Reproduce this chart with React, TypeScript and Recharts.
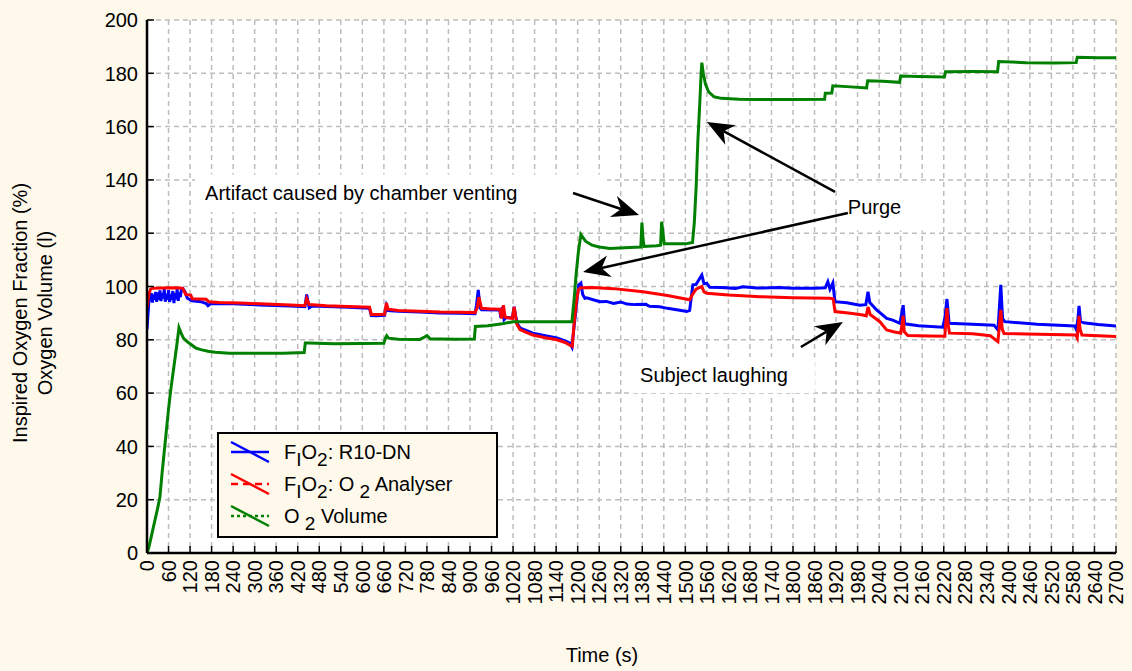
import React from "react";
import {
  CartesianGrid,
  Legend,
  Line,
  LineChart,
  ReferenceArea,
  ReferenceLine,
  XAxis,
  YAxis,
} from "recharts";

const FONT = '"Liberation Sans", Arial, sans-serif';

// time (s) -> value
const r10dnSeries: [number, number][] = [
  [0, 84], [3, 90], [6, 96], [9, 94.5], [12, 97.5], [15, 94], [18, 97], [21, 95], [24, 98],
  [27, 94.2], [30, 97.8], [33, 95], [36, 98.5], [39, 94.5], [42, 97.5], [45, 95.5], [48, 99],
  [51, 94.3], [54, 97.2], [57, 95], [60, 98.6], [63, 94.2], [66, 97], [69, 95], [72, 98.3],
  [75, 93.8], [78, 97.5], [81, 95.2], [84, 99], [87, 94.6], [90, 97.8], [93, 96], [96, 99],
  [100, 99.2], [106, 98], [112, 95.7], [125, 94.6], [150, 94.3], [165, 93.6], [170, 92.8],
  [178, 93.6], [240, 93.5], [330, 93], [400, 92.7], [440, 92.4], [445, 97], [449, 94],
  [452, 92], [460, 92.7], [500, 92.5], [560, 92.2], [620, 91.8], [625, 89.1], [640, 89],
  [662, 89.2], [667, 92.8], [672, 91], [700, 90.7], [760, 90.4], [816, 90.1], [870, 90],
  [914, 89.8], [918, 93], [923, 98.7], [928, 92], [932, 91.3], [983, 91.2], [986, 88.3],
  [990, 92.2], [995, 87.6], [1000, 88.4], [1018, 88.2], [1023, 92.4], [1027, 89], [1032, 86],
  [1040, 84.4], [1060, 83.3], [1075, 82.5], [1110, 81.5], [1142, 80.7], [1165, 79.6],
  [1178, 78.8], [1184, 77.3], [1190, 85], [1198, 95], [1203, 100.6], [1209, 101.3],
  [1214, 97], [1220, 95.6], [1225, 95.8], [1262, 94.3], [1280, 94.4], [1300, 93.6],
  [1320, 94.2], [1337, 93.4], [1360, 93.2], [1390, 93.3], [1400, 92.6], [1429, 92.4],
  [1450, 91.8], [1480, 91.2], [1504, 90.6], [1512, 91], [1521, 100.6], [1530, 100.8],
  [1540, 103], [1546, 104.3], [1552, 101], [1560, 101.2], [1568, 99.7], [1600, 99.6],
  [1640, 99.3], [1660, 99.9], [1700, 99.4], [1760, 99.6], [1800, 99.3], [1860, 99.3],
  [1890, 99.5], [1897, 101.8], [1903, 99], [1911, 101.3], [1917, 94.3], [1950, 93.9],
  [1986, 93], [2003, 93.2], [2009, 98], [2014, 94], [2033, 91.2], [2061, 88], [2078, 87.4],
  [2098, 86.2], [2103, 90], [2107, 93], [2111, 86], [2150, 85.3], [2217, 84.7], [2223, 88],
  [2229, 95.3], [2235, 86.2], [2300, 85.8], [2360, 85.5], [2371, 83.7], [2375, 92],
  [2379, 100.6], [2384, 88], [2390, 86.8], [2480, 85.8], [2585, 85.2], [2590, 83.7],
  [2594, 88], [2597, 92.7], [2601, 87], [2610, 86.4], [2650, 85.7], [2700, 85.2],
];

const analyserSeries: [number, number][] = [
  [0, 92], [5, 97], [10, 99], [14, 99.3], [40, 99.4], [70, 99.5], [95, 99.4], [100, 99.2],
  [108, 97], [122, 96.8], [126, 95.4], [165, 95.2], [172, 94.3], [200, 94], [260, 93.8],
  [330, 93.4], [400, 93.1], [440, 92.8], [445, 95.5], [452, 93.2], [500, 92.8], [560, 92.5],
  [620, 92.2], [625, 89.5], [640, 89.5], [662, 89.6], [667, 93.8], [672, 91.5], [700, 91],
  [760, 90.7], [816, 90.4], [870, 90.3], [914, 90.2], [920, 92], [925, 96], [932, 91.8],
  [960, 91.6], [983, 91.5], [988, 88], [993, 93], [998, 88.5], [1018, 88], [1023, 92.3],
  [1030, 86], [1039, 83.8], [1060, 82.6], [1075, 81.8], [1110, 80.8], [1142, 80], [1165, 79],
  [1178, 78], [1185, 77.6], [1190, 86], [1196, 94], [1202, 98.8], [1208, 99.5], [1240, 99.6],
  [1300, 99.2], [1382, 98], [1450, 96.6], [1512, 95], [1520, 97], [1530, 99], [1546, 100],
  [1552, 98], [1560, 97.5], [1620, 96.8], [1708, 96.2], [1800, 95.8], [1903, 95.6],
  [1912, 95.4], [1917, 90.6], [1960, 90], [1995, 89.3], [2004, 89], [2009, 92.3], [2015, 89.5],
  [2030, 88], [2042, 86.8], [2061, 83.7], [2080, 83], [2100, 82.5], [2104, 86], [2107, 89],
  [2110, 83], [2120, 81.6], [2180, 81.4], [2223, 81.3], [2226, 87], [2229, 91.9], [2232, 86],
  [2236, 82.5], [2300, 82.3], [2350, 81.5], [2371, 79.3], [2375, 85], [2379, 91.2], [2383, 84],
  [2388, 82.4], [2450, 82.2], [2520, 82], [2588, 81.8], [2592, 80.7], [2595, 85], [2597, 89],
  [2600, 84], [2605, 81.8], [2650, 81.5], [2700, 81.2],
];

const volumeSeries: [number, number][] = [
  [0, 0], [5, 2], [10, 5], [15, 8], [20, 11], [25, 14], [30, 17], [36, 21], [42, 30], [48, 38],
  [54, 46], [60, 54], [66, 61], [72, 67], [78, 73], [84, 79], [89, 84.5], [95, 82.5],
  [102, 80.5], [110, 79.5], [120, 78.5], [135, 77], [150, 76.3], [170, 75.7], [190, 75.3],
  [230, 75], [300, 75], [380, 75], [438, 75.2], [441, 78.8], [450, 78.8], [520, 78.5],
  [600, 78.6], [660, 78.7], [664, 80.5], [668, 81.5], [673, 80.6], [700, 80.2], [760, 80.1],
  [770, 80.8], [780, 81.6], [790, 80.3], [816, 80.3], [860, 80.2], [912, 80.3], [915, 85],
  [950, 85.3], [990, 86], [1020, 86.8], [1060, 86.8], [1120, 86.8], [1184, 86.8], [1190, 95],
  [1196, 105], [1202, 113], [1209, 119.5], [1214, 118.5], [1222, 117], [1240, 115.5],
  [1260, 114.8], [1290, 114.3], [1330, 114.5], [1376, 114.8], [1379, 124], [1382, 118],
  [1385, 115], [1420, 115.3], [1431, 115.5], [1434, 124.3], [1437, 121], [1441, 116],
  [1470, 116], [1500, 116], [1520, 116.5], [1525, 124], [1530, 137], [1535, 155], [1540, 168],
  [1544, 180], [1546, 184], [1550, 180], [1556, 176], [1565, 173], [1580, 171.2],
  [1600, 170.6], [1650, 170.3], [1700, 170.2], [1800, 170.2], [1888, 170.3], [1890, 172.5],
  [1908, 172.6], [1911, 175.3], [1950, 175], [2005, 174.5], [2008, 177.2], [2050, 177],
  [2097, 176.6], [2100, 179], [2150, 178.8], [2222, 178.6], [2225, 180.6], [2300, 180.7],
  [2370, 180.6], [2373, 184.4], [2450, 184], [2530, 183.9], [2589, 184], [2592, 186],
  [2650, 185.8], [2700, 185.8],
];

const timeTicks = [
  0, 60, 120, 180, 240, 300, 360, 420, 480, 540, 600, 660, 720, 780, 840, 900, 960, 1020,
  1080, 1140, 1200, 1260, 1320, 1380, 1440, 1500, 1560, 1620, 1680, 1740, 1800, 1860, 1920,
  1980, 2040, 2100, 2160, 2220, 2280, 2340, 2400, 2460, 2520, 2580, 2640, 2700,
];
const valueTicks = [0, 20, 40, 60, 80, 100, 120, 140, 160, 180, 200];

// annotation text boxes [t1, t2, v1, v2] and arrows [tailT, tailV, tipT, tipV]
const notes = [
  { text: "Artifact caused by chamber venting", box: [134, 1282, 128, 142] },
  { text: "Purge", box: [1925, 2210, 121, 139] },
  { text: "Subject laughing", box: [1346, 1861, 60, 73.5] },
];
const arrows = [
  [1187, 135.1, 1371, 126.8],
  [1917, 135.5, 1560, 161.7],
  [1953, 127.6, 1215, 105.4],
  [1822, 77.3, 1939, 86.7],
];

const toPoints = (s: [number, number][]) => s.map(([t, v]) => ({ t, v }));

const series = [
  { key: "r10", color: "#0000FF", dash: "", data: toPoints(r10dnSeries), label: <>F<sub>I</sub>O<sub>2</sub>: R10-DN</> },
  { key: "ana", color: "#FF0000", dash: "7 5", data: toPoints(analyserSeries), label: <>F<sub>I</sub>O<sub>2</sub>: O<sub>&nbsp;2</sub> Analyser</> },
  { key: "vol", color: "#008000", dash: "3 3", data: toPoints(volumeSeries), label: <>O<sub>&nbsp;2</sub> Volume</> },
];

const TimeTick = (props: any) => {
  const { x, y, payload } = props;
  return (
    <g>
      <line x1={x} x2={x} y1={y} y2={y - 7} stroke="#000" strokeWidth={1.5} />
      <text x={x} y={y + 7} transform={`rotate(-90 ${x} ${y + 7})`} textAnchor="end" dy="0.36em"
        fontSize={20} fontFamily={FONT} fill="#000">{payload.value}</text>
    </g>
  );
};
const TopTick = (props: any) => (
  <line x1={props.x} x2={props.x} y1={props.y} y2={props.y + 7} stroke="#000" strokeWidth={1.5} />
);
const ValueTick = (props: any) => {
  const { x, y, payload } = props;
  return (
    <g>
      <line x1={x} x2={x + 7} y1={y} y2={y} stroke="#000" strokeWidth={1.5} />
      <text x={x - 9} y={y} dy="0.36em" textAnchor="end" fontSize={20} fontFamily={FONT} fill="#000">
        {payload.value}
      </text>
    </g>
  );
};
const RightTick = (props: any) => (
  <line x1={props.x} x2={props.x - 7} y1={props.y} y2={props.y} stroke="#000" strokeWidth={1.5} />
);

const Arrow = (p: any) => {
  const { x1, y1, x2, y2 } = p;
  const len = Math.hypot(x2 - x1, y2 - y1);
  const ux = (x2 - x1) / len;
  const uy = (y2 - y1) / len;
  const hl = 27, hw = 11, notch = 19;
  const bx = x2 - ux * hl, by = y2 - uy * hl;
  const nx = x2 - ux * notch, ny = y2 - uy * notch;
  const pts = `${x2},${y2} ${bx - uy * hw},${by + ux * hw} ${nx},${ny} ${bx + uy * hw},${by - ux * hw}`;
  return (
    <g>
      <line x1={x1} y1={y1} x2={nx} y2={ny} stroke="#000" strokeWidth={2.5} />
      <polygon points={pts} fill="#000" />
    </g>
  );
};

const LegendBox = () => (
  <div style={{ position: "relative", width: 281, height: 106, boxSizing: "border-box", border: "2px solid #000", background: "#FFF9EC", fontFamily: FONT, fontSize: 20 }}>
    {series.map((s, i) => (
      <div key={s.key} style={{ position: "absolute", left: 11, top: 6 + i * 32, height: 24, display: "flex", alignItems: "center" }}>
        <svg width={40} height={24}>
          <line x1={1} x2={39} y1={12} y2={12} stroke={s.color} strokeWidth={2.5} strokeDasharray={s.dash} />
          <line x1={1} x2={39} y1={2} y2={22} stroke={s.color} strokeWidth={2.5} />
        </svg>
        <span style={{ marginLeft: 14, lineHeight: "24px", whiteSpace: "nowrap" }}>{s.label}</span>
      </div>
    ))}
  </div>
);

export default function App() {
  return (
    <div style={{ position: "absolute", left: 0, top: 0, width: 1132, height: 671, background: "#FFF9EC", fontFamily: FONT }}>
      <style>{"sub{font-size:19px;vertical-align:-7px;line-height:0}"}</style>
      <LineChart width={1132} height={671} margin={{ top: 20, right: 16, left: 0, bottom: 0 }}>
        <CartesianGrid fill="#fff" stroke="#BDBDBD" strokeWidth={1.5} strokeDasharray="5 4" />
        <XAxis dataKey="t" type="number" domain={[0, 2700]} ticks={timeTicks} allowDataOverflow
          height={118} tickSize={0} tickMargin={0} tickLine={false} interval={0}
          axisLine={{ stroke: "#000", strokeWidth: 2.5 }} tick={<TimeTick />}
          label={({ viewBox }: any) => (
            <text x={602} y={viewBox.y + 102} textAnchor="middle" dy="0.36em" fontSize={20} fontFamily={FONT}>Time (s)</text>
          )} />
        <XAxis xAxisId="top" orientation="top" type="number" domain={[0, 2700]} ticks={timeTicks}
          allowDataOverflow height={0} tickSize={0} tickMargin={0} tickLine={false} interval={0}
          axisLine={{ stroke: "#000", strokeWidth: 2.5 }} tick={<TopTick />} />
        <YAxis type="number" domain={[0, 200]} ticks={valueTicks} allowDataOverflow width={147}
          tickSize={0} tickMargin={0} tickLine={false} interval={0}
          axisLine={{ stroke: "#000", strokeWidth: 2.5 }} tick={<ValueTick />}
          label={() => (
            <g fontSize={20} fontFamily={FONT}>
              <text x={20} y={313} transform="rotate(-90 20 313)" textAnchor="middle" dy="0.36em">Inspired Oxygen Fraction (%)</text>
              <text x={45} y={313} transform="rotate(-90 45 313)" textAnchor="middle" dy="0.36em">Oxygen Volume (l)</text>
            </g>
          )} />
        <YAxis yAxisId="right" orientation="right" type="number" domain={[0, 200]} ticks={valueTicks}
          allowDataOverflow width={0} tickSize={0} tickMargin={0} tickLine={false} interval={0}
          axisLine={{ stroke: "#000", strokeWidth: 2.5 }} tick={<RightTick />} />
        {notes.map((n) => (
          <ReferenceArea key={n.text} x1={n.box[0]} x2={n.box[1]} y1={n.box[2]} y2={n.box[3]}
            fill="#fff" fillOpacity={1} stroke="none"
            label={{ value: n.text, position: "insideLeft", offset: 10, fill: "#000", fontSize: 20, fontFamily: FONT }} />
        ))}
        {series.map((s) => (
          <Line key={s.key} data={s.data} dataKey="v" type="linear" stroke={s.color} strokeWidth={3}
            dot={false} isAnimationActive={false} name={s.key} />
        ))}
        {arrows.map((a, i) => (
          <ReferenceLine key={i} segment={[{ x: a[0], y: a[1] }, { x: a[2], y: a[3] }]} shape={Arrow} />
        ))}
        <Legend layout="vertical" align="center" verticalAlign="middle" content={() => <LegendBox />}
          wrapperStyle={{ left: 217, top: 432, width: 281, height: 106 }} />
      </LineChart>
    </div>
  );
}
